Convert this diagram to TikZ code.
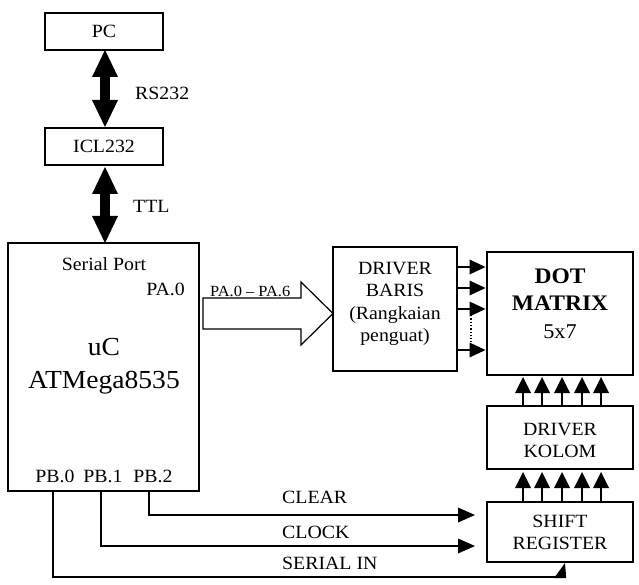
\documentclass[tikz,border=0pt]{standalone}
\usepackage{fontspec}
\setmainfont{Liberation Serif}[FakeStretch=1.06]
\usetikzlibrary{arrows.meta,calc}
\begin{document}
\begin{tikzpicture}[x=1pt,y=-1pt,
  box/.style={draw, line width=1.3pt, inner sep=0pt, outer sep=0pt},
  txt/.style={inner sep=0pt, anchor=base, font=\fontsize{18.7}{22}\selectfont},
  lbl/.style={inner sep=0pt, anchor=base west, font=\fontsize{18.7}{22}\selectfont},
  bigarrow/.style={line width=10pt, {Triangle[width=26pt,length=27pt,line width=0pt]}-{Triangle[width=26pt,length=27pt,line width=0pt]}},
  rowarr/.style={line width=2pt, -{Triangle[width=15pt,length=16pt,line width=0pt]}, shorten >=1.5pt},
  colarr/.style={line width=2pt, -{Triangle[width=16pt,length=16pt,line width=0pt]}},
  sigarr/.style={line width=2pt, -{Triangle[width=15pt,length=17pt,line width=0pt]}}
]
\useasboundingbox (0,0) rectangle (639,585);

% boxes
\node[box, minimum width=118pt, minimum height=37pt] (pc) at (104,31.5) {};
\node[box, minimum width=118pt, minimum height=37pt] (icl) at (104,146.5) {};
\node[box, minimum width=191pt, minimum height=248pt] (uc) at (103.5,367) {};
\node[box, minimum width=124pt, minimum height=124pt] (baris) at (395,309) {};
\node[box, minimum width=146pt, minimum height=123pt] (dot) at (560,313.5) {};
\node[box, minimum width=146pt, minimum height=63pt] (kolom) at (560,437.5) {};
\node[box, minimum width=146pt, minimum height=60pt] (shift) at (560,532) {};

% texts
\node[txt] (pct) at (104,38) {PC};
\node[txt] (iclt) at (104,153) {ICL232};
\node[lbl] (rs) at (135,100) {RS232};
\node[lbl] (ttl) at (133,213) {TTL};
\node[txt] (sp) at (104,270) {Serial Port};
\node[txt, anchor=base east] (pa0) at (185,295) {PA.0};
\node[txt, font=\fontsize{26}{30}\selectfont] (uct) at (104,355) {uC};
\node[txt, font=\fontsize{26}{30}\selectfont] (atm) at (104,388) {ATMega8535};
\node[txt] (pb0t) at (55,482) {PB.0};
\node[txt] (pb1t) at (103,482) {PB.1};
\node[txt] (pb2t) at (153,482) {PB.2};

\node[txt] (b1) at (395,274) {DRIVER};
\node[txt] (b2) at (395,296) {BARIS};
\node[txt] (b3) at (395,319) {(Rangkaian};
\node[txt] (b4) at (395,341) {penguat)};

\node[txt, font=\fontsize{22.2}{26}\bfseries] (d1) at (560,283) {DOT};
\node[txt, font=\fontsize{22.2}{26}\bfseries] (d2) at (560,310) {MATRIX};
\node[txt, font=\fontsize{21}{25}\selectfont] (d3) at (560,338) {5x7};

\node[txt] (k1t) at (560,435) {DRIVER};
\node[txt] (k2t) at (560,457) {KOLOM};
\node[txt] (s1t) at (560,527) {SHIFT};
\node[txt] (s2t) at (560,549) {REGISTER};

\node[lbl] (clr) at (282,503) {CLEAR};
\node[lbl] (clk) at (282,538) {CLOCK};
\node[lbl] (sin) at (282,569) {SERIAL IN};

% big double arrows
\draw[bigarrow, shorten >=1pt] ([xshift=1pt]pc.south) -- ([xshift=1pt]icl.north);
\draw[bigarrow, shorten <=2pt] ([xshift=1pt]icl.south) -- ([xshift=1pt]icl.south |- uc.north);

% block arrow PA.0 - PA.6
\coordinate (T) at ([yshift=-4.5pt]baris.west);
\draw[line width=1.2pt, fill=white] (T) -- ++(-32pt,31.5pt) -- ++(0,-16pt) -- ++(-98pt,0)
  -- ++(0,-31pt) -- ++(98pt,0) -- ++(0,-16pt) -- cycle;
\node[inner sep=0pt, anchor=base west, font=\fontsize{15.5}{18}\selectfont] (pal) at (210,296) {PA.0 -- PA.6};

% row arrows
\coordinate (r1) at (0,267);
\coordinate (r2) at (0,288);
\coordinate (r3) at (0,309);
\coordinate (r4) at (0,350);
\foreach \r in {r1,r2,r3,r4}
  \draw[rowarr] (baris.east |- \r) -- (dot.west |- \r);
\coordinate (dt) at (471,0);
\draw[line width=1.3pt, dotted] ($(dt |- r3)+(0,-6pt)$) -- ($(dt |- r4)+(0,8pt)$);

% column arrows
\foreach \x [count=\i] in {523,542,562,582,601} {
  \coordinate (c\i) at (\x,0);
  \draw[colarr, shorten >=2pt] (kolom.north -| c\i) -- (dot.south -| c\i);
  \draw[colarr, shorten >=3pt] (shift.north -| c\i) -- (kolom.south -| c\i);
}

% PB connectors
\path (uc.south west) ++(45pt,0) coordinate (pb0);
\path (uc.south west) ++(93pt,0) coordinate (pb1);
\path (uc.south west) ++(141pt,0) coordinate (pb2);
\coordinate (yclr) at (0,515);
\coordinate (yclk) at (0,546);
\coordinate (si) at (565,577);
\draw[sigarr, shorten >=12pt] (pb2) |- (shift.west |- yclr);
\draw[sigarr, shorten >=12pt] (pb1) |- (shift.west |- yclk);
\draw[line width=2.4pt] (pb0) |- (si);
\fill ($(si |- shift.south)+(0,-1pt)$) -- ($(si)+(1.2pt,-1.2pt)$) -- ($(si)+(-11pt,-1.2pt)$) -- cycle;
\end{tikzpicture}
\end{document}
